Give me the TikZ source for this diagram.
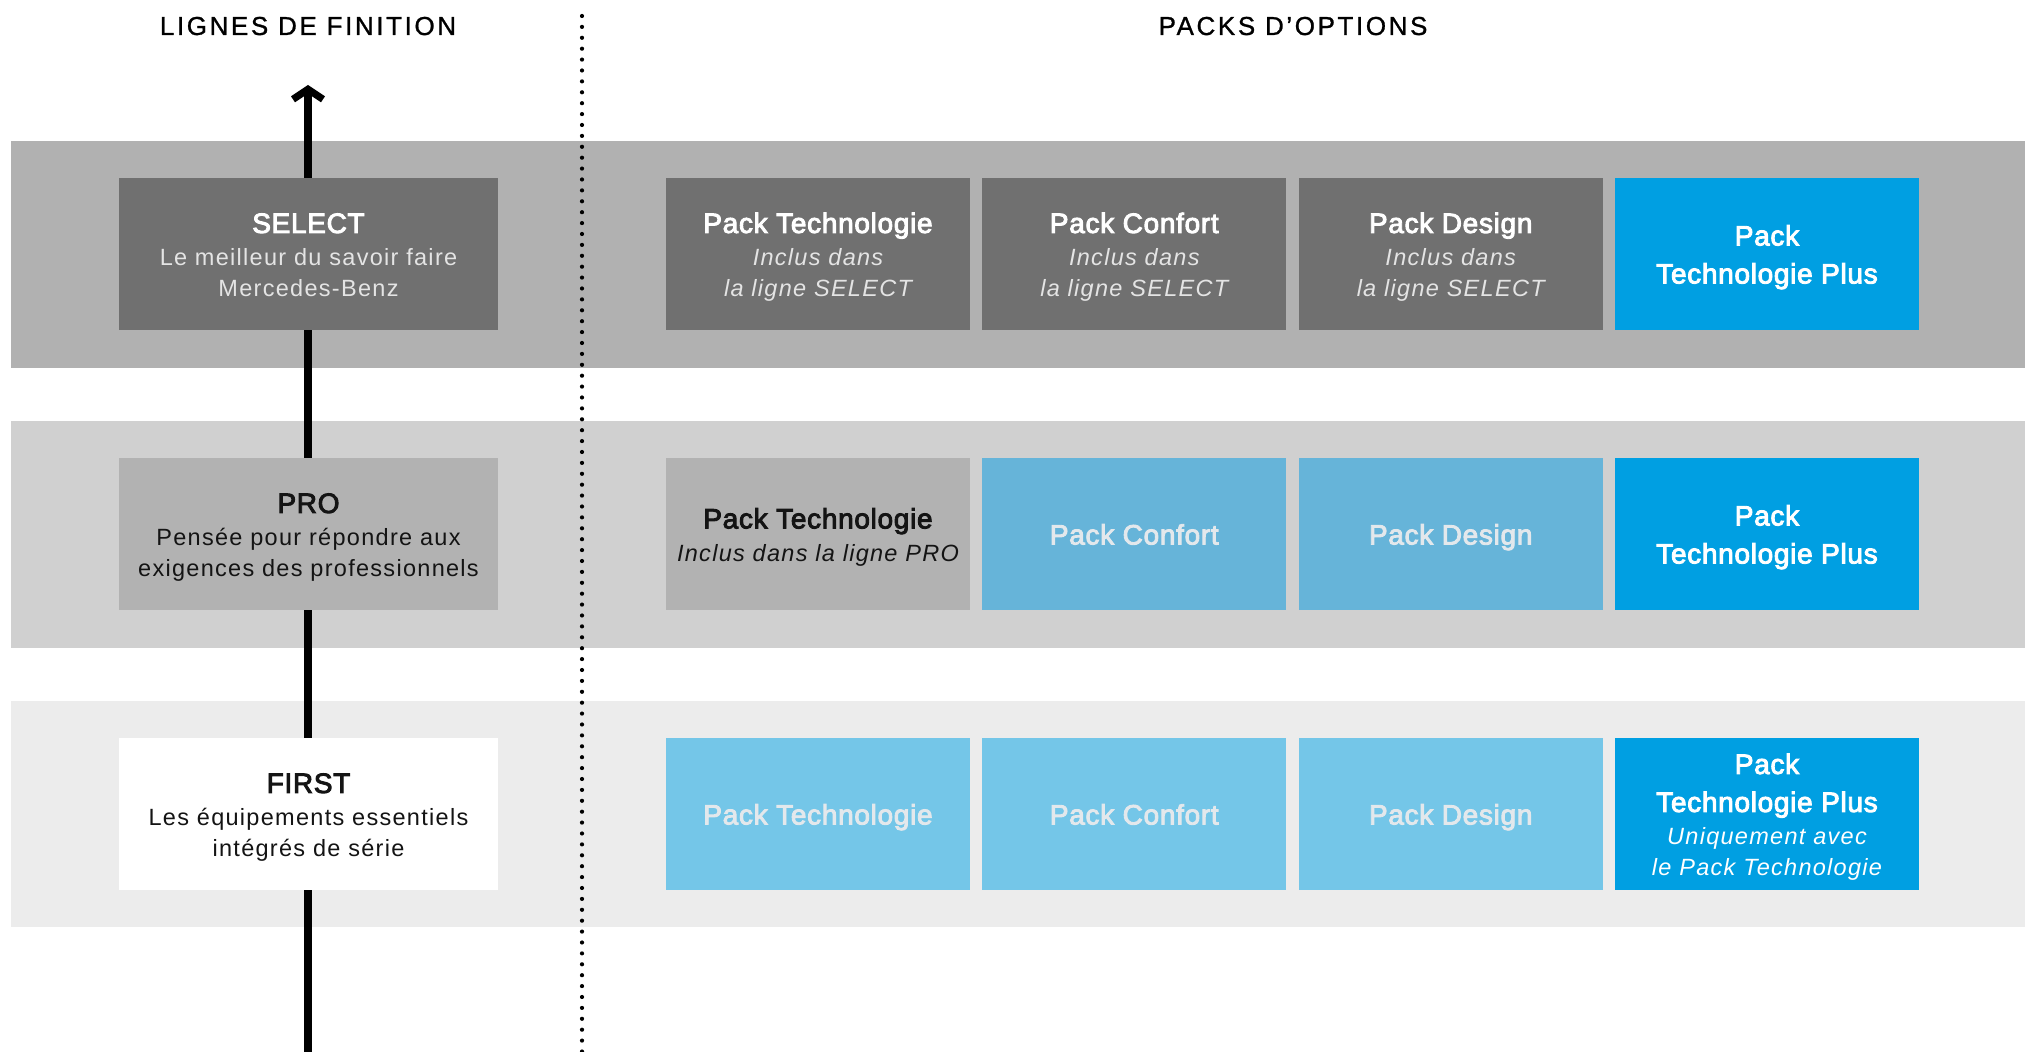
\documentclass[tikz,border=0pt]{standalone}
\usepackage{fontspec}
\setmainfont{Liberation Sans}
\newfontfamily\ttlfam[FakeBold=3.2, LetterSpace=2.5]{Liberation Sans}
\newfontfamily\bdyfam[LetterSpace=5.5]{Liberation Sans}
\newfontfamily\hdrfam[LetterSpace=10, FakeBold=1]{Liberation Sans}
\usetikzlibrary{arrows.meta}
\definecolor{bandA}{HTML}{B1B1B1}
\definecolor{bandB}{HTML}{D0D0D0}
\definecolor{bandC}{HTML}{ECECEC}
\definecolor{boxDark}{HTML}{707070}
\definecolor{boxMid}{HTML}{B2B2B2}
\definecolor{blueBright}{HTML}{009FE2}
\definecolor{blueMid}{HTML}{66B4D9}
\definecolor{blueLight}{HTML}{74C6E8}
\definecolor{txtLight}{HTML}{E4E4E4}
\definecolor{txtBlue}{HTML}{E3E8EC}
\definecolor{txtDark}{HTML}{141414}
% first title line: carries a taller strut to set the block slightly lower
\newcommand\mkTitle[1]{{\ttlfam\fontsize{14pt}{19pt}\selectfont\rule{0pt}{13.4pt}\vphantom{g}#1}}
% following title lines
\newcommand\mkTitleNext[1]{{\ttlfam\fontsize{14pt}{19pt}\selectfont\vphantom{Pg}#1}}
\newcommand\mkBody[1]{{\bdyfam\fontsize{11.75pt}{15.5pt}\selectfont\vphantom{Pg}#1}}
\newcommand\mkItal[1]{{\bdyfam\itshape\fontsize{11.75pt}{15.5pt}\selectfont\vphantom{Pg}#1}}
\tikzset{
  lvlbox/.style={minimum width=189.5pt, minimum height=76pt, inner sep=0pt, align=center,
    font=\bdyfam\fontsize{11.75pt}{15.5pt}\selectfont},
  pkbox/.style={minimum width=152pt, minimum height=76pt, inner sep=0pt, align=center,
    font=\bdyfam\fontsize{11.75pt}{15.5pt}\selectfont},
  hdr/.style={font=\hdrfam\fontsize{13pt}{15pt}\selectfont, inner sep=0pt, text=black},
  dotline/.style={line width=2.1pt, line cap=round, dash pattern=on 0pt off 5.45pt},
  levelarrow/.style={line width=4pt, -{Straight Barb[length=5pt, width=15pt, line width=3.6pt]}},
}
\begin{document}
\begin{tikzpicture}[x=0.5pt, y=-0.5pt]
\useasboundingbox (0,0) rectangle (2025,1052);
% bands
\fill[bandA] (11,141) rectangle (2025,368);
\fill[bandB] (11,421) rectangle (2025,648);
\fill[bandC] (11,701) rectangle (2025,927);
% headers
\node[hdr, anchor=base] (h1) at (308,35) {LIGNES DE FINITION};
\node[hdr, anchor=base] (h2) at (1293,35) {PACKS D’OPTIONS};
% dotted separator
\coordinate (dtop) at (582,16);
\coordinate (dbot) at (582,1052);
\draw[dotline] (dtop) -- (dbot);
% arrow
\coordinate (abot) at (308,1052);
\coordinate (atop) at (308,85);
\draw[levelarrow] (abot) -- (atop);
% SELECT row
\node[lvlbox, fill=boxDark, text=txtLight] (select) at (308.5,254)
  {\mkTitle{\textcolor{white}{SELECT}}\\[1pt]\mkBody{Le meilleur du savoir faire}\\\mkBody{Mercedes-Benz}};
\node[pkbox, fill=boxDark, text=txtLight] (s1) at (818,254)
  {\mkTitle{\textcolor{white}{Pack Technologie}}\\[1pt]\mkItal{Inclus dans}\\\mkItal{la ligne SELECT}};
\node[pkbox, fill=boxDark, text=txtLight] (s2) at (1134.3,254)
  {\mkTitle{\textcolor{white}{Pack Confort}}\\[1pt]\mkItal{Inclus dans}\\\mkItal{la ligne SELECT}};
\node[pkbox, fill=boxDark, text=txtLight] (s3) at (1450.7,254)
  {\mkTitle{\textcolor{white}{Pack Design}}\\[1pt]\mkItal{Inclus dans}\\\mkItal{la ligne SELECT}};
\node[pkbox, fill=blueBright, text=white] (s4) at (1767,254)
  {\mkTitle{Pack}\\[3.5pt]\mkTitleNext{Technologie Plus}};
% PRO row
\node[lvlbox, fill=boxMid, text=txtDark] (pro) at (308.5,534)
  {\mkTitle{PRO}\\[1pt]\mkBody{Pensée pour répondre aux}\\\mkBody{exigences des professionnels}};
\node[pkbox, fill=boxMid, text=txtDark] (p1) at (818,534)
  {\mkTitle{Pack Technologie}\\[1pt]\mkItal{Inclus dans la ligne PRO}};
\node[pkbox, fill=blueMid, text=txtBlue] (p2) at (1134.3,534) {\mkTitle{Pack Confort}};
\node[pkbox, fill=blueMid, text=txtBlue] (p3) at (1450.7,534) {\mkTitle{Pack Design}};
\node[pkbox, fill=blueBright, text=white] (p4) at (1767,534)
  {\mkTitle{Pack}\\[3.5pt]\mkTitleNext{Technologie Plus}};
% FIRST row
\node[lvlbox, fill=white, text=txtDark] (first) at (308.5,814)
  {\mkTitle{FIRST}\\[1pt]\mkBody{Les équipements essentiels}\\\mkBody{intégrés de série}};
\node[pkbox, fill=blueLight, text=txtBlue] (f1) at (818,814) {\mkTitle{Pack Technologie}};
\node[pkbox, fill=blueLight, text=txtBlue] (f2) at (1134.3,814) {\mkTitle{Pack Confort}};
\node[pkbox, fill=blueLight, text=txtBlue] (f3) at (1450.7,814) {\mkTitle{Pack Design}};
\node[pkbox, fill=blueBright, text=white] (f4) at (1767,814)
  {\mkTitle{Pack}\\[3.5pt]\mkTitleNext{Technologie Plus}\\[1pt]\mkItal{Uniquement avec}\\\mkItal{le Pack Technologie}};
\end{tikzpicture}
\end{document}
